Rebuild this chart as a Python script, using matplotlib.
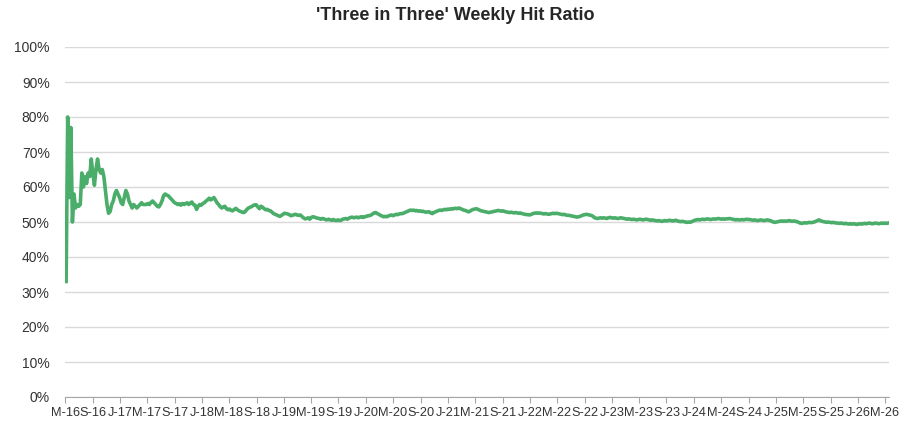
import matplotlib.pyplot as plt
import pandas as pd
from matplotlib.ticker import PercentFormatter

plt.rcParams['font.family'] = ['Liberation Sans', 'DejaVu Sans']

# weekly hit ratio (%), first week ending 2016-05-06
start_date = '2016-05-06'
hit_ratio = [
    33, 80, 57, 77, 50, 58, 54, 55, 54.5, 55,
    64, 60, 63, 61, 64, 63, 68, 64, 60.5, 65,
    68, 65, 64, 65, 63, 59, 55, 52.5, 53, 55,
    56, 58, 59, 58, 57, 55.5, 55, 57, 59, 58,
    56, 55, 54, 55, 54.5,
    54, 54.5, 55, 55.5, 55, 55,
    55, 55.3, 55, 55.6, 56, 55.5,
    55, 54.5, 54.3, 55, 56, 57.5,
    58, 57.7, 57.5, 57, 56.5, 56,
    55.5, 55.3, 55, 55.2, 54.8, 55.3, 55,
    55.2, 55.5, 55, 55.4, 55.7, 55, 54.8, 53.6, 54.5, 55,
    54.8, 55.3, 55.5, 56, 56.3, 56.8, 56.3, 56.6, 57, 56.3,
    55.5, 55, 54.4, 54, 54.3, 54.5, 53.8, 53.5, 53.7, 53.3,
    53.2, 53.6, 53.9, 53.5, 53.2, 53, 52.8,
    52.7, 53, 53.6, 54, 54.2, 54.4, 54.7, 54.9,
    54.9, 54.3, 53.8, 54.5, 54.2, 53.8, 53.5, 53.6, 53.3, 53.2,
    52.8, 52.4, 52.2, 52, 51.8, 51.6, 51.9, 52.2, 52.5, 52.4,
    52.3, 52.1, 51.8, 51.9, 52.1, 52.2, 52, 51.9, 52, 51.6,
    51.2, 50.9, 51, 51.2, 50.8, 51.3, 51.5, 51.4, 51.2, 51.1,
    51, 50.8, 51, 50.9, 50.7, 50.6, 50.8, 50.6, 50.5, 50.7,
    50.5, 50.4, 50.6, 50.4, 50.5, 50.8, 50.9, 51, 50.8, 51.1,
    51.3, 51.4, 51.2, 51.3, 51.4, 51.2, 51.4, 51.5, 51.3, 51.5,
    51.6, 51.8, 51.8, 52, 52.3, 52.6, 52.7, 52.4, 52.2, 51.9,
    51.7, 51.5, 51.6, 51.5, 51.7, 51.9, 52, 51.8, 52, 52.2,
    52.1, 52.3, 52.4, 52.4, 52.6, 52.8, 53, 53.2, 53.4, 53.3,
    53.4, 53.2, 53.3, 53.1, 53.2, 53, 53.1, 52.9, 52.8, 52.9,
    52.9, 52.6, 52.4, 52.7, 52.9, 53.1, 53.3, 53.4, 53.3, 53.5,
    53.6, 53.5, 53.7, 53.6, 53.8, 53.7, 53.9, 53.9, 53.8, 54,
    53.8, 53.6, 53.4, 53.3, 53.1, 52.9, 53.1, 53.4, 53.6, 53.7,
    53.8, 53.6, 53.4, 53.2, 53.1, 53, 52.9, 52.8, 52.7, 52.8,
    52.9, 53, 53.1, 53.2, 53.3, 53.2, 53.1, 53.2, 53, 52.9,
    52.8, 52.7, 52.8, 52.7, 52.6, 52.7, 52.6, 52.5, 52.6, 52.4,
    52.3, 52.2, 52.1, 52.1, 52, 52.2, 52.4, 52.5, 52.6, 52.5,
    52.6, 52.5, 52.4, 52.3, 52.4, 52.3, 52.2, 52.3, 52.4, 52.5,
    52.4, 52.5, 52.4, 52.3, 52.2, 52.1, 52.2, 52, 51.9, 51.9,
    51.8, 51.7, 51.6, 51.5, 51.4, 51.5, 51.6, 51.8, 52, 52.1,
    52.2, 52.1, 52, 51.9, 51.7, 51.3, 51.1, 51, 51.1, 51.2,
    51.1, 51.2, 51.1, 51, 51.2, 51.3, 51.2, 51.1, 51.2, 51.1,
    51, 51.1, 51.2, 51.1, 51, 50.9, 50.8, 50.9, 50.8, 50.7,
    50.8, 50.7, 50.6, 50.7, 50.8, 50.7, 50.6, 50.7, 50.8, 50.7,
    50.6, 50.5, 50.6, 50.5, 50.4, 50.3, 50.4, 50.3, 50.2, 50.3,
    50.4, 50.3, 50.4, 50.5, 50.4, 50.3, 50.4, 50.5, 50.3, 50.2,
    50.1, 50.2, 50.1, 50, 49.9, 50, 49.9, 50.1, 50.3, 50.5,
    50.6, 50.7, 50.6, 50.7, 50.8, 50.7, 50.8, 50.9, 50.8, 50.7,
    50.8, 50.9, 50.8, 50.9, 51, 50.9, 50.8, 50.9, 50.8, 50.9,
    50.9, 51, 50.9, 50.8, 50.7, 50.6, 50.7, 50.6, 50.6, 50.7,
    50.6, 50.7, 50.8, 50.7, 50.7, 50.6, 50.5, 50.6, 50.5, 50.4,
    50.5, 50.6, 50.5, 50.4, 50.5, 50.6, 50.5, 50.4, 50.2, 50,
    49.9, 50, 50.1, 50.2, 50.3, 50.2, 50.3, 50.2, 50.3, 50.4,
    50.3, 50.2, 50.3, 50.2, 50.1, 49.9, 49.7, 49.6, 49.7, 49.8,
    49.7, 49.8, 49.9, 49.8, 49.9, 50, 50.2, 50.4, 50.6, 50.4,
    50.2, 50.1, 50, 49.9, 50, 49.9, 49.8, 49.9, 49.8, 49.7,
    49.7, 49.6, 49.7, 49.6, 49.5, 49.6, 49.5, 49.4, 49.5, 49.4,
    49.5, 49.4, 49.3, 49.4, 49.5, 49.4, 49.5, 49.6, 49.5, 49.6,
    49.7, 49.6, 49.5, 49.6, 49.7, 49.6, 49.5, 49.6, 49.7, 49.6,
    49.7, 49.6, 49.7,
]

dates = pd.date_range(start_date, periods=len(hit_ratio), freq='7D')
tick_dates = pd.date_range('2016-05-01', '2026-05-01', freq='4MS')
tick_labels = [d.strftime('%b')[0] + d.strftime('-%y') for d in tick_dates]

fig = plt.figure(figsize=(9.13, 4.22), dpi=100)
ax = fig.add_axes([65 / 913, 25 / 422, 824 / 913, 350 / 422])

ax.plot(dates, hit_ratio, color='#4aad6a', lw=2.6, solid_joinstyle='round')

ax.set_ylim(0, 100)
ax.set_yticks(range(0, 101, 10))
ax.yaxis.set_major_formatter(PercentFormatter(decimals=0))
ax.set_xlim(pd.Timestamp('2016-05-01'), pd.Timestamp('2026-05-19'))
ax.set_xticks(tick_dates)
ax.set_xticklabels(tick_labels)

ax.grid(axis='y', color='#d9d9d9', lw=1)
ax.set_axisbelow(True)
for side in ['top', 'right', 'left']:
    ax.spines[side].set_visible(False)
ax.spines['bottom'].set_color('#a6a6a6')
ax.tick_params(axis='y', length=0, pad=11, labelsize=10, labelcolor='#333333')
ax.tick_params(axis='x', length=4, color='#a6a6a6', pad=3, labelsize=9.2, labelcolor='#333333')

fig.text(455 / 913, 1 - 15 / 422, "'Three in Three' Weekly Hit Ratio", ha='center', va='center',
         fontsize=13, fontweight='bold', color='#262626')

fig.savefig('out.png', dpi=100)
